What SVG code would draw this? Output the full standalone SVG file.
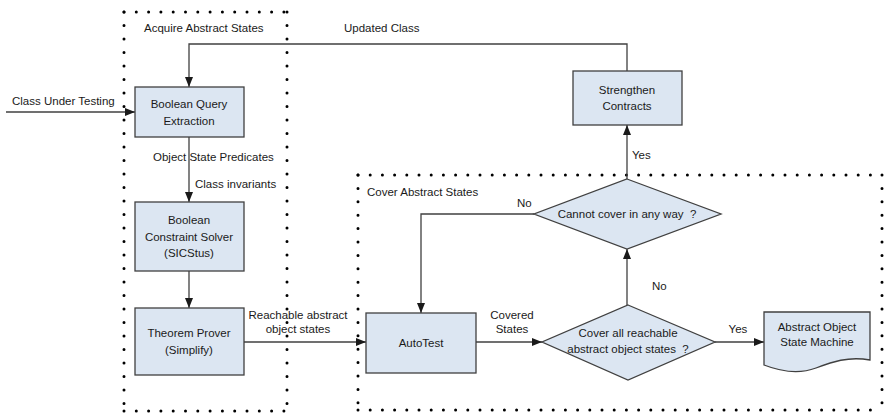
<svg xmlns="http://www.w3.org/2000/svg" width="886" height="416" viewBox="0 0 886 416">
  <defs>
    <marker id="arrow" viewBox="0 0 10 8" refX="10" refY="4" markerWidth="10" markerHeight="8" markerUnits="userSpaceOnUse" orient="auto">
      <path d="M0,0 L10,4 L0,8 Z" fill="#1a1a1a"/>
    </marker>
    <style>
      text { font-family: "Liberation Sans", Arial, sans-serif; font-size: 11.5px; fill: #1a1a1a; }
      .mid { text-anchor: middle; }
      .box { fill: #dce6f2; stroke: #404040; stroke-width: 1.3; }
      .edge { fill: none; stroke: #404040; stroke-width: 1.3; }
      .dots { fill: none; stroke: #000; stroke-width: 3; stroke-linecap: round; }
    </style>
  </defs>
  <rect width="886" height="416" fill="#ffffff"/>

  <!-- dotted grouping frames -->
  <g id="frame-acquire">
    <path class="dots" d="M124,12 H287" stroke-dasharray="0 12.3"/>
    <path class="dots" d="M124,411 H287" stroke-dasharray="0 12.3"/>
    <path class="dots" d="M124,12 V411" stroke-dasharray="0 13.5"/>
    <path class="dots" d="M287,12 V411" stroke-dasharray="0 13.5"/>
    <text x="144" y="32">Acquire Abstract States</text>
  </g>
  <g id="frame-cover">
    <path class="dots" d="M358,175 H882" stroke-dasharray="0 12.2"/>
    <path class="dots" d="M358,410 H882" stroke-dasharray="0 12.2"/>
    <path class="dots" d="M358,175 V410" stroke-dasharray="0 13.4"/>
    <path class="dots" d="M882,175 V410" stroke-dasharray="0 13.4"/>
    <text x="367" y="196">Cover Abstract States</text>
  </g>

  <!-- connectors -->
  <g id="connectors">
    <path class="edge" d="M6,112 H135" marker-end="url(#arrow)"/>
    <path class="edge" d="M627,71 V44 H189 V87" marker-end="url(#arrow)"/>
    <path class="edge" d="M189,137 V202" marker-end="url(#arrow)"/>
    <path class="edge" d="M189,271 V308" marker-end="url(#arrow)"/>
    <path class="edge" d="M244,342 H366" marker-end="url(#arrow)"/>
    <path class="edge" d="M476,342 H542" marker-end="url(#arrow)"/>
    <path class="edge" d="M715,342 H764" marker-end="url(#arrow)"/>
    <path class="edge" d="M627,305 V249" marker-end="url(#arrow)"/>
    <path class="edge" d="M627,179 V125" marker-end="url(#arrow)"/>
    <path class="edge" d="M534,214 H421 V313" marker-end="url(#arrow)"/>

    <text x="12" y="105">Class Under Testing</text>
    <text x="344" y="32">Updated Class</text>
    <text x="153" y="161">Object State Predicates</text>
    <text x="195" y="188">Class invariants</text>
    <text class="mid" x="298" y="319">Reachable abstract</text>
    <text class="mid" x="298" y="333">object states</text>
    <text class="mid" x="512" y="319">Covered</text>
    <text class="mid" x="512" y="333">States</text>
    <text class="mid" x="738" y="333">Yes</text>
    <text x="652" y="290">No</text>
    <text x="632" y="159">Yes</text>
    <text x="517" y="207">No</text>
  </g>

  <!-- nodes -->
  <g id="boolean-query-extraction">
    <rect class="box" x="135" y="87" width="109" height="50"/>
    <text class="mid" x="189" y="108">Boolean Query</text>
    <text class="mid" x="189" y="125">Extraction</text>
  </g>
  <g id="constraint-solver">
    <rect class="box" x="135" y="202" width="109" height="69"/>
    <text class="mid" x="189" y="224">Boolean</text>
    <text class="mid" x="189" y="241">Constraint Solver</text>
    <text class="mid" x="189" y="257">(SICStus)</text>
  </g>
  <g id="theorem-prover">
    <rect class="box" x="135" y="308" width="109" height="67"/>
    <text class="mid" x="189" y="337">Theorem Prover</text>
    <text class="mid" x="189" y="354">(Simplify)</text>
  </g>
  <g id="autotest">
    <rect class="box" x="366" y="313" width="110" height="60"/>
    <text class="mid" x="421" y="347">AutoTest</text>
  </g>
  <g id="cover-all">
    <path class="box" d="M628,305 L715,342 L628,380 L542,342 Z"/>
    <text class="mid" x="628" y="337">Cover all reachable</text>
    <text class="mid" x="628" y="353" xml:space="preserve">abstract object states  ?</text>
  </g>
  <g id="cannot-cover">
    <path class="box" d="M627,179 L721,214 L627,249 L534,214 Z"/>
    <text class="mid" x="627" y="218" xml:space="preserve">Cannot cover in any way  ?</text>
  </g>
  <g id="strengthen-contracts">
    <rect class="box" x="573" y="71" width="109" height="54"/>
    <text class="mid" x="627" y="94">Strengthen</text>
    <text class="mid" x="627" y="110">Contracts</text>
  </g>
  <g id="state-machine">
    <path class="box" d="M764,312 H870 V360 C848,356 832,362 816,368 C800,374 782,372 764,365 Z"/>
    <text class="mid" x="817" y="331">Abstract Object</text>
    <text class="mid" x="817" y="346">State Machine</text>
  </g>
</svg>
